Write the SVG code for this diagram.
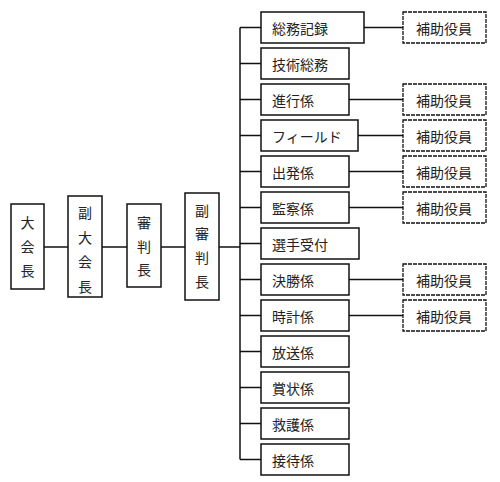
<svg xmlns="http://www.w3.org/2000/svg" width="500" height="482" viewBox="0 0 500 482">
<style>
rect.n{fill:#fff;stroke:#111;stroke-width:1.5}
rect.a{fill:#fff;stroke:#111;stroke-width:1.3;stroke-dasharray:4 1}
text{font-family:"Noto Sans CJK JP","Noto Sans CJK SC",sans-serif;font-size:14px;fill:#222;dominant-baseline:central}
text.c{text-anchor:middle}
.l{stroke:#111;stroke-width:1.5;fill:none}
</style>
<g id="connectors">
<path class="l" d="M44 247H68M102 247H127M161 247H185M219 247H240M240 27.5V459.5"/>
<path class="l" d="M240 27.5H261M240 63.5H261M240 99.5H261M240 135.5H261M240 171.5H261M240 207.5H261M240 243.5H261M240 279.5H261M240 315.5H261M240 351.5H261M240 387.5H261M240 423.5H261M240 459.5H261"/>
<path class="l" d="M364 27.5H403M349 99.5H403M358 135.5H403M349 171.5H403M349 207.5H403M349 279.5H403M349 315.5H403"/>
</g>
<g id="n-daikaicho"><rect class="n" x="11" y="204" width="33" height="85"/>
<text class="c" x="27.5" y="222">大</text><text class="c" x="27.5" y="246">会</text><text class="c" x="27.5" y="270">長</text></g>
<g id="n-fukudaikaicho"><rect class="n" x="68" y="196" width="34" height="101"/>
<text class="c" x="85" y="212">副</text><text class="c" x="85" y="237">大</text><text class="c" x="85" y="261">会</text><text class="c" x="85" y="286">長</text></g>
<g id="n-shinpancho"><rect class="n" x="127" y="204" width="34" height="83"/>
<text class="c" x="144" y="222">審</text><text class="c" x="144" y="246">判</text><text class="c" x="144" y="269">長</text></g>
<g id="n-fukushinpancho"><rect class="n" x="185" y="193" width="34" height="107"/>
<text class="c" x="202" y="210">副</text><text class="c" x="202" y="233">審</text><text class="c" x="202" y="257">判</text><text class="c" x="202" y="281">長</text></g>
<g id="n-somukiroku"><rect class="n" x="261" y="12" width="103" height="31"/><text x="272" y="27.5">総務記録</text></g>
<g id="n-gijutsusomu"><rect class="n" x="261" y="48" width="88" height="31"/><text x="272" y="63.5">技術総務</text></g>
<g id="n-shinko"><rect class="n" x="261" y="84" width="88" height="31"/><text x="272" y="99.5">進行係</text></g>
<g id="n-field"><rect class="n" x="261" y="120" width="97" height="31"/><text x="272" y="135.5">フィールド</text></g>
<g id="n-shuppatsu"><rect class="n" x="261" y="156" width="88" height="31"/><text x="272" y="171.5">出発係</text></g>
<g id="n-kansatsu"><rect class="n" x="261" y="192" width="88" height="31"/><text x="272" y="207.5">監察係</text></g>
<g id="n-senshuuketsuke"><rect class="n" x="261" y="228" width="98" height="31"/><text x="272" y="243.5">選手受付</text></g>
<g id="n-kessho"><rect class="n" x="261" y="264" width="88" height="31"/><text x="272" y="279.5">決勝係</text></g>
<g id="n-tokei"><rect class="n" x="261" y="300" width="88" height="31"/><text x="272" y="315.5">時計係</text></g>
<g id="n-hoso"><rect class="n" x="261" y="336" width="88" height="31"/><text x="272" y="351.5">放送係</text></g>
<g id="n-shojo"><rect class="n" x="261" y="372" width="88" height="31"/><text x="272" y="387.5">賞状係</text></g>
<g id="n-kyugo"><rect class="n" x="261" y="408" width="88" height="31"/><text x="272" y="423.5">救護係</text></g>
<g id="n-settai"><rect class="n" x="261" y="444" width="88" height="31"/><text x="272" y="459.5">接待係</text></g>
<g id="a-0"><rect class="a" x="403" y="12" width="83" height="31"/><text class="c" x="444" y="27.5">補助役員</text></g>
<g id="a-2"><rect class="a" x="403" y="84" width="83" height="31"/><text class="c" x="444" y="99.5">補助役員</text></g>
<g id="a-3"><rect class="a" x="403" y="120" width="83" height="31"/><text class="c" x="444" y="135.5">補助役員</text></g>
<g id="a-4"><rect class="a" x="403" y="156" width="83" height="31"/><text class="c" x="444" y="171.5">補助役員</text></g>
<g id="a-5"><rect class="a" x="403" y="192" width="83" height="31"/><text class="c" x="444" y="207.5">補助役員</text></g>
<g id="a-7"><rect class="a" x="403" y="264" width="83" height="31"/><text class="c" x="444" y="279.5">補助役員</text></g>
<g id="a-8"><rect class="a" x="403" y="300" width="83" height="31"/><text class="c" x="444" y="315.5">補助役員</text></g>
</svg>
